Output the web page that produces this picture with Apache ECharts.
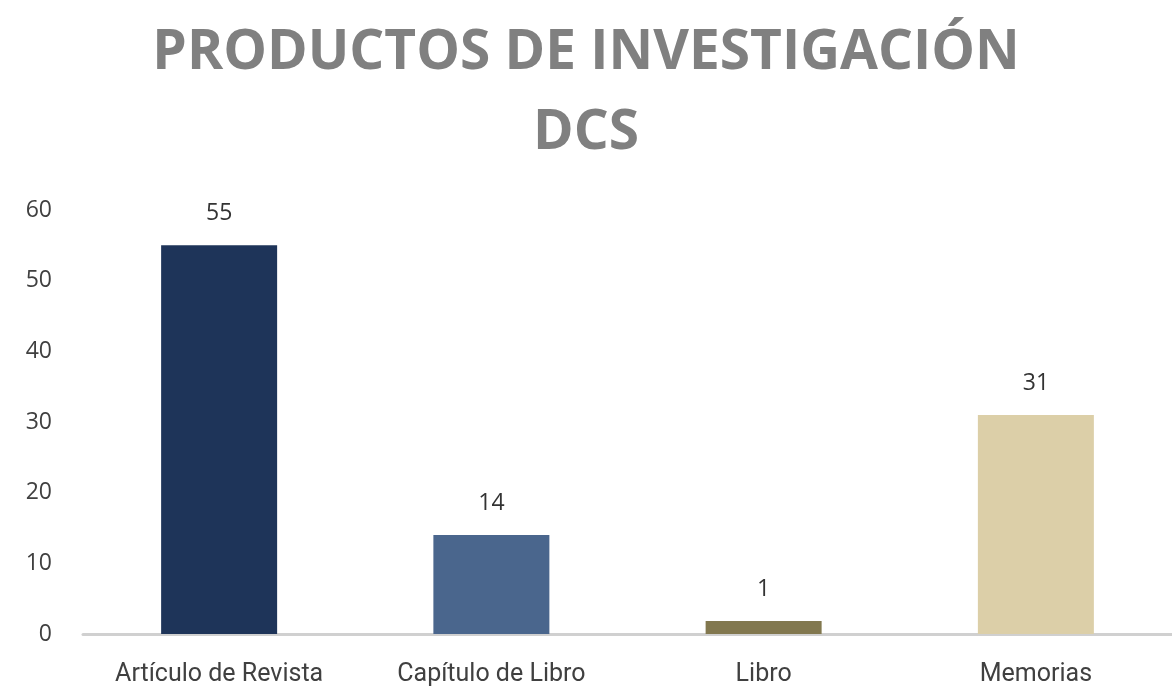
<!DOCTYPE html>
<html>
<head>
<meta charset="UTF-8">
<title>Productos de investigación DCS</title>
<script type="text/javascript" src="https://cdn.jsdelivr.net/npm/echarts@6/dist/echarts.min.js"></script>
<style>
  html, body { margin: 0; padding: 0; background: #fff; }
</style>
</head>
<body>
	<div id="box" style="width:1172px;height:696px;"></div>
	<script type="text/javascript">
		var categorias = ['Artículo de Revista', 'Capítulo de Libro', 'Libro', 'Memorias'];
		var valores = [55, 14, 1, 31];
		var colores = ['#1e3459', '#4a668d', '#82784f', '#dccfa8'];
		var ejeY = [0, 10, 20, 30, 40, 50, 60];

		var mychart = echarts.init(document.getElementById('box'));
		var option = {
			title: {
				text: 'PRODUCTOS DE INVESTIGACIÓN\nDCS',
				left: 'center',
				top: 8,
				textStyle: {
					fontFamily: 'Open Sans',
					fontWeight: 'bold',
					fontSize: 55,
					color: '#808080',
					lineHeight: 80
				}
			},
			grid: { left: 83, right: -10, top: 210, bottom: 62 },
			xAxis: {
				type: 'category',
				data: categorias,
				axisTick: { show: false },
				axisLine: { lineStyle: { color: '#d0d0d0', width: 3 } },
				axisLabel: {
					fontFamily: 'Roboto',
					fontSize: 25,
					color: '#404040',
					margin: 28
				}
			},
			yAxis: {
				type: 'value',
				min: ejeY[0],
				max: ejeY[ejeY.length - 1],
				interval: 10,
				splitLine: { show: false },
				axisLine: { show: false },
				axisTick: { show: false },
				axisLabel: {
					fontFamily: 'Open Sans',
					fontSize: 23,
					color: '#404040',
					margin: 31
				}
			},
			series: [{
				type: 'bar',
				barWidth: 116,
				barMinHeight: 13,
				data: valores.map(function (v, i) {
					return { value: v, itemStyle: { color: colores[i] } };
				}),
				label: {
					show: true,
					position: 'top',
					distance: 20,
					fontFamily: 'Open Sans',
					fontSize: 23,
					color: '#333'
				}
			}]
		};
		mychart.setOption(option);
	</script>
</body>
</html>
